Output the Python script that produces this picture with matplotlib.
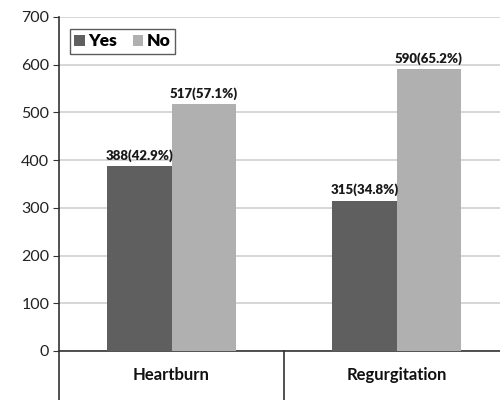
import numpy as np
import matplotlib.pyplot as plt
from matplotlib.transforms import blended_transform_factory

categories = ['Heartburn', 'Regurgitation']
yes_counts = [388, 315]
no_counts = [517, 590]
yes_pct = [42.9, 34.8]
no_pct = [57.1, 65.2]
yticks = [0, 100, 200, 300, 400, 500, 600, 700]

plt.rcParams['font.family'] = ['Lato', 'DejaVu Sans']

fig = plt.figure(figsize=(5, 4), dpi=100)
ax = fig.add_axes([0.118, 0.1225, 0.9, 0.835])

x = np.arange(len(categories))
width = 0.285
bars_yes = ax.bar(x - width / 2, yes_counts, width, color='#5f5f5f', label='Yes', zorder=3)
bars_no = ax.bar(x + width / 2, no_counts, width, color='#b0b0b0', label='No', zorder=3)

for bars, counts, pcts in [(bars_yes, yes_counts, yes_pct), (bars_no, no_counts, no_pct)]:
    for b, c, p in zip(bars, counts, pcts):
        ax.text(b.get_x() + b.get_width() / 2, c + 9, f'{c}({p}%)', ha='center', va='bottom',
                fontsize=9.5, fontweight='heavy', color='#1a1a1a')

ax.set_xlim(-0.5, 1.5)
ax.set_ylim(0, 700)
ax.set_yticks(yticks)
ax.tick_params(axis='y', labelsize=11.5, length=4, pad=3, color='#333333', labelcolor='#222222')
ax.set_xticks([])
ax.yaxis.grid(True, color='#d0d0d0', linewidth=1.2, zorder=0)
ax.set_axisbelow(True)

for s in ['top', 'right']:
    ax.spines[s].set_visible(False)
ax.spines['left'].set_color('#333333')
ax.spines['bottom'].set_color('#333333')
ax.spines['left'].set_linewidth(1.2)
ax.spines['bottom'].set_linewidth(1.2)

# category table lines below the axis
trans = blended_transform_factory(ax.transData, ax.transAxes)
for xv in [-0.5, 0.5]:
    ax.plot([xv, xv], [0, -0.15], transform=trans, color='#333333', linewidth=1.2, clip_on=False)
for xi, name in zip(x, categories):
    ax.text(xi, -0.072, name, transform=trans, ha='center', va='center', fontsize=12,
            fontweight='bold', color='#111111')

leg = ax.legend(loc='upper left', bbox_to_anchor=(0.005, 0.99), ncol=2, frameon=True, fancybox=False,
                handlelength=0.6, handleheight=0.6, handletextpad=0.2, columnspacing=0.9,
                borderpad=0.25, prop={'size': 12.5, 'weight': 'heavy'})
leg.get_frame().set_edgecolor('#333333')
leg.get_frame().set_linewidth(1.0)

fig.savefig('out.png', dpi=100)
